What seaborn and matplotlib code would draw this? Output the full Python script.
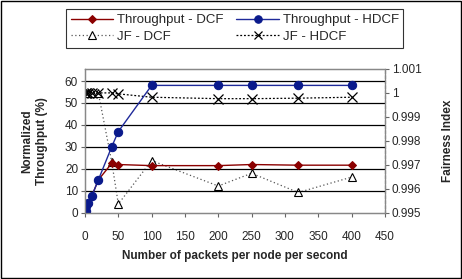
import matplotlib
matplotlib.use("Agg")
import matplotlib.pyplot as plt
import seaborn as sns
from matplotlib.patches import Rectangle

sns.set_style("white")
plt.rcParams["font.family"] = ["Liberation Sans", "DejaVu Sans"]

# data
load = [1, 2, 5, 10, 20, 40, 50, 100, 200, 250, 320, 400]
thr_dcf = [1, 2.5, 4, 7.5, 15, 22.5, 22, 21.5, 21.5, 22, 21.7, 21.7]
thr_hdcf = [1, 3, 4.5, 7.5, 15, 30, 37, 58, 58, 58, 58, 58]
jf_dcf = [1.0, 1.0, 1.0, 1.0, 1.0, 0.99714, 0.99537, 0.99718, 0.99612, 0.99665, 0.99585, 0.99649]
jf_hdcf = [1.0, 1.0, 1.0, 1.0, 1.0, 1.0, 0.99996, 0.99982, 0.99976, 0.99976, 0.99978, 0.99982]

fig = plt.figure(figsize=(4.62, 2.79), dpi=100)
ax = fig.add_axes([0.184, 0.237, 0.649, 0.516])
ax2 = ax.twinx()

# fairness index on the right axis
sns.lineplot(x=load, y=jf_dcf, ax=ax2, color="#555555", linestyle=(0, (1, 2)), lw=0.9,
             marker="^", markersize=6, markerfacecolor="white", markeredgecolor="black",
             markeredgewidth=0.8, label="JF - DCF", legend=False)
sns.lineplot(x=load, y=jf_hdcf, ax=ax2, color="black", linestyle=(0, (1.5, 1.5)), lw=0.9,
             marker="x", markersize=6.5, markeredgecolor="black", markeredgewidth=0.9,
             label="JF - HDCF", legend=False)

# throughput on the left axis
sns.lineplot(x=load, y=thr_dcf, ax=ax, color="#8b0000", lw=1.0, marker="D", markersize=4.5,
             markeredgecolor="#8b0000", label="Throughput - DCF", legend=False)
sns.lineplot(x=load, y=thr_hdcf, ax=ax, color="#1f2a9a", lw=1.0, marker="o", markersize=6,
             markerfacecolor="#0a1a8c", markeredgecolor="#0a1a8c", label="Throughput - HDCF",
             legend=False)

ax.set_zorder(ax2.get_zorder() + 1)
ax.patch.set_visible(False)

ax.set_xlim(0, 450)
ax.set_ylim(0, 65.5)
ax2.set_ylim(0.995, 1.001)
ax.set_xticks(range(0, 451, 50))
ax.set_yticks(range(0, 61, 10))
ax2.set_yticks([0.995, 0.996, 0.997, 0.998, 0.999, 1.0, 1.001])
ax2.set_yticklabels(["0.995", "0.996", "0.997", "0.998", "0.999", "1", "1.001"])

for y in range(10, 61, 10):
    ax.axhline(y, color="black", lw=0.9, zorder=0)

for a in (ax, ax2):
    for s in a.spines.values():
        s.set_color("#888888")
        s.set_linewidth(0.9)
ax2.spines["right"].set_linestyle((0, (2, 2)))
ax2.spines["right"].set_color("#666666")

ax.tick_params(axis="y", direction="out", length=3, width=0.8, color="#666666",
               labelsize=8.5, pad=2, left=True)
ax.tick_params(axis="x", direction="out", length=3, width=0.8, color="#666666",
               labelsize=8.5, pad=10, bottom=True)
ax2.tick_params(axis="y", direction="out", length=3, width=0.8, color="#666666",
                labelsize=8.5, pad=2, right=True)

ax.set_xlabel("Number of packets per node per second", fontsize=8.5, fontweight="bold", labelpad=5)
ax.set_ylabel("Normalized\nThroughput (%)", fontsize=8.5, fontweight="bold", labelpad=12,
              linespacing=1.3)
ax2.set_ylabel("Fairness Index", fontsize=8.5, fontweight="bold", labelpad=15)

h1, l1 = ax.get_legend_handles_labels()
h2, l2 = ax2.get_legend_handles_labels()
handles = [h1[0], h2[0], h1[1], h2[1]]
labels = [l1[0], l2[0], l1[1], l2[1]]
leg = fig.legend(handles, labels, ncol=2, loc="upper center", bbox_to_anchor=(0.508, 0.99),
                 fontsize=9.5, frameon=True, fancybox=False, edgecolor="black",
                 handlelength=3.2, handletextpad=0.3, columnspacing=1.0, borderpad=0.35,
                 labelspacing=0.35, markerscale=0.9)
leg.get_frame().set_linewidth(0.8)

fig.patches.append(Rectangle((0.002, 0.003), 0.995, 0.994, transform=fig.transFigure,
                             fill=False, edgecolor="black", lw=1.0))

fig.savefig("out.png", dpi=100)
